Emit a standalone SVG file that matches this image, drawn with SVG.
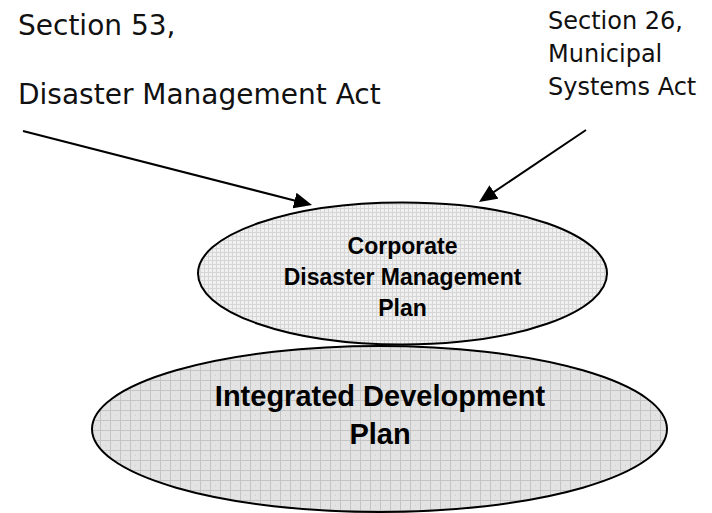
<svg xmlns="http://www.w3.org/2000/svg" width="712" height="513" viewBox="0 0 712 513">
<style>
.lbl{font-family:"DejaVu Sans","Liberation Sans",sans-serif;fill:#111}
.node{stroke:#000;stroke-width:2}
.ntxt{font-family:"Liberation Sans",Arial,sans-serif;font-weight:bold;fill:#000;text-anchor:middle}
.conn{stroke:#000;stroke-width:2;fill:none}
</style>
<defs>
<pattern id="gridS" width="4" height="4" patternUnits="userSpaceOnUse">
<rect width="4" height="4" fill="#f0f0f0"/>
<path d="M0,0.5H4M0.5,0V4" stroke="#d6d6d6" stroke-width="1"/>
</pattern>
<pattern id="gridL" width="10" height="10" patternUnits="userSpaceOnUse">
<rect width="10" height="10" fill="#e3e3e3"/>
<path d="M0,0.5H10M0.5,0V10" stroke="#c4c4c4" stroke-width="1"/>
<rect x="5" y="5" width="1" height="1" fill="#cfcfcf"/>
</pattern>
<marker id="arr" markerUnits="userSpaceOnUse" markerWidth="20" markerHeight="16" refX="8" refY="8" orient="auto">
<path d="M0,0 L18,8 L0,16 Z" fill="#000"/>
</marker>
</defs>

<g id="label-section53">
<text class="lbl" x="18" y="35" font-size="28">Section 53,</text>
<text class="lbl" x="18" y="104" font-size="28">Disaster Management Act</text>
</g>
<g id="label-section26">
<text class="lbl" x="548" y="29" font-size="24">Section 26,</text>
<text class="lbl" x="548" y="62" font-size="24">Municipal</text>
<text class="lbl" x="548" y="95" font-size="24">Systems Act</text>
</g>

<g id="node-idp">
<ellipse class="node" cx="379.5" cy="429" rx="287.5" ry="83" fill="url(#gridL)"/>
<text class="ntxt" x="380" y="406" font-size="29">Integrated Development</text>
<text class="ntxt" x="380" y="444" font-size="29">Plan</text>
</g>

<g id="node-cdmp">
<ellipse class="node" cx="402.5" cy="273.5" rx="204.5" ry="71" fill="url(#gridS)"/>
<text class="ntxt" x="402.5" y="254" font-size="23">Corporate</text>
<text class="ntxt" x="402.5" y="285" font-size="23">Disaster Management</text>
<text class="ntxt" x="402.5" y="316" font-size="23">Plan</text>
</g>

<g id="connectors">
<line class="conn" x1="23" y1="131" x2="302.3" y2="202.5" marker-end="url(#arr)"/>
<line class="conn" x1="586" y1="130" x2="487.3" y2="196.4" marker-end="url(#arr)"/>
</g>
</svg>
